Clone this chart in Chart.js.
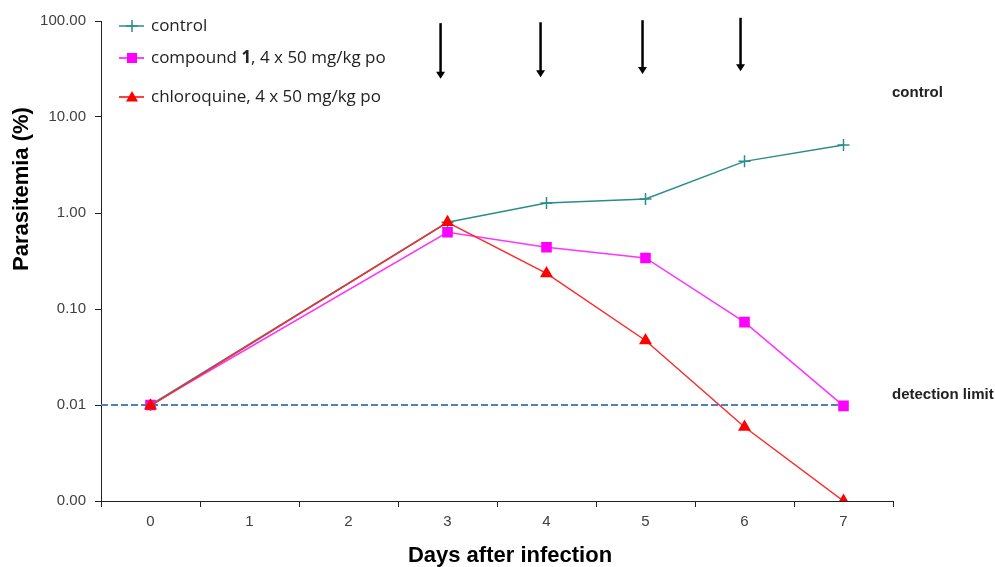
<!DOCTYPE html>
<html>
<head>
<meta charset="utf-8">
<script src="https://cdn.jsdelivr.net/npm/chart.js@4.4.1/dist/chart.umd.min.js"></script>
<style>
  html, body { margin: 0; padding: 0; background: #fff; }
  #wrap { width: 995px; height: 567px; }
</style>
</head>
<body>
<div id="wrap"><canvas id="chart"></canvas></div>
<script>
// Data
const days = ['0', '1', '2', '3', '4', '5', '6', '7'];
const control = [0.01, null, null, 0.80, 1.27, 1.40, 3.45, 5.1];
const compound1 = [0.01, null, null, 0.63, 0.44, 0.34, 0.073, 0.0098];
const chloroquine = [0.0098, null, null, 0.80, 0.235, 0.047, 0.0059, 0.001];
const yTicks = [0.001, 0.01, 0.1, 1, 10, 100];
const detectionLimit = 0.01;

// Dosing arrows (x in days, y in %)
const arrowDays = [2.93, 3.94, 4.97, 5.96];
const arrowTops = [95, 97, 102, 108];
const arrowBottoms = [25, 26, 28, 30];

const TEAL = '#2b8c8c';
const MAGENTA = '#ff00ff';
const RED = '#ff0000';
const AXIS = '#222';
const FONT = '"Liberation Sans", Arial, sans-serif';

function marker(ctx, style, x, y, color) {
    ctx.save();
    ctx.fillStyle = color;
    ctx.strokeStyle = color;
    ctx.lineWidth = 1.5;
    ctx.beginPath();
    if (style === 'cross') {
        ctx.moveTo(x - 6, y); ctx.lineTo(x + 6, y);
        ctx.moveTo(x, y - 6); ctx.lineTo(x, y + 6);
        ctx.stroke();
    } else if (style === 'rect') {
        ctx.fillRect(x - 5, y - 5, 10, 10);
    } else {
        ctx.moveTo(x, y - 6); ctx.lineTo(x + 6, y + 4.5); ctx.lineTo(x - 6, y + 4.5);
        ctx.closePath();
        ctx.fill();
    }
    ctx.restore();
}

// Detection limit line, drawn under the series
const detectionPlugin = {
    id: 'detection',
    beforeDatasetsDraw(chart) {
        const { ctx, chartArea, scales } = chart;
        const y = scales.y.getPixelForValue(detectionLimit);
        ctx.save();
        ctx.strokeStyle = '#4f81bd';
        ctx.lineWidth = 2;
        ctx.setLineDash([7, 3]);
        ctx.beginPath();
        ctx.moveTo(chartArea.left, y);
        ctx.lineTo(scales.x.getPixelForValue(days.length - 1), y);
        ctx.stroke();
        ctx.restore();
    }
};

// Arrows, legend, axis titles and side notes
const overlayPlugin = {
    id: 'overlay',
    afterDraw(chart) {
        const { ctx, chartArea, scales } = chart;
        ctx.save();

        // arrows
        ctx.strokeStyle = '#000';
        ctx.fillStyle = '#000';
        ctx.lineWidth = 2.5;
        arrowDays.forEach((d, i) => {
            const x = scales.x.getPixelForValue(d);
            const y0 = scales.y.getPixelForValue(arrowTops[i]);
            const y1 = scales.y.getPixelForValue(arrowBottoms[i]);
            ctx.beginPath();
            ctx.moveTo(x, y0);
            ctx.lineTo(x, y1 - 6);
            ctx.stroke();
            ctx.beginPath();
            ctx.moveTo(x - 4.5, y1 - 7);
            ctx.lineTo(x + 4.5, y1 - 7);
            ctx.lineTo(x, y1);
            ctx.closePath();
            ctx.fill();
        });

        // legend
        const lx = chartArea.left + 18;
        const rows = [
            { y: 26, color: TEAL, style: 'cross', parts: [['control', false]] },
            { y: 58, color: MAGENTA, style: 'rect', parts: [['compound ', false], ['1', true], [', 4 x 50 mg/kg po', false]] },
            { y: 97, color: RED, style: 'triangle', parts: [['chloroquine, 4 x 50 mg/kg po', false]] }
        ];
        rows.forEach(r => {
            ctx.strokeStyle = r.color;
            ctx.lineWidth = 1.5;
            ctx.beginPath();
            ctx.moveTo(lx, r.y);
            ctx.lineTo(lx + 25, r.y);
            ctx.stroke();
            marker(ctx, r.style, lx + 13, r.y, r.color);
            let tx = lx + 32;
            ctx.fillStyle = '#222';
            ctx.textBaseline = 'middle';
            ctx.textAlign = 'left';
            r.parts.forEach(([t, bold]) => {
                ctx.font = (bold ? 'bold ' : '') + '17px "Open Sans", sans-serif';
                ctx.fillText(t, tx, r.y);
                tx += ctx.measureText(t).width;
            });
        });

        // axis titles
        ctx.fillStyle = '#000';
        ctx.font = 'bold 22px ' + FONT;
        ctx.textAlign = 'center';
        ctx.textBaseline = 'middle';
        ctx.fillText('Days after infection', 510, 556);
        ctx.save();
        ctx.translate(22, 189);
        ctx.rotate(-Math.PI / 2);
        ctx.fillText('Parasitemia (%)', 0, 0);
        ctx.restore();

        // side notes
        ctx.font = 'bold 15px ' + FONT;
        ctx.fillStyle = '#222';
        ctx.textAlign = 'left';
        ctx.fillText('control', chartArea.right - 1, scales.y.getPixelForValue(18));
        ctx.fillText('detection limit', chartArea.right - 1, scales.y.getPixelForValue(detectionLimit) - 10);
        ctx.restore();
    }
};

new Chart(document.getElementById('chart'), {
    type: 'line',
    data: {
        labels: days,
        datasets: [
            {
                label: 'control',
                data: control,
                borderColor: TEAL,
                backgroundColor: TEAL,
                borderWidth: 1.5,
                pointStyle: 'cross',
                pointRadius: 6,
                pointBorderWidth: 1.5,
                spanGaps: true,
                order: 1
            },
            {
                label: 'compound 1, 4 x 50 mg/kg po',
                data: compound1,
                borderColor: '#ff33ff',
                backgroundColor: MAGENTA,
                pointBorderColor: MAGENTA,
                borderWidth: 1.5,
                pointStyle: 'rect',
                pointRadius: 7.5,
                pointBorderWidth: 0,
                spanGaps: true,
                order: 2
            },
            {
                label: 'chloroquine, 4 x 50 mg/kg po',
                data: chloroquine,
                borderColor: '#ff2a2a',
                backgroundColor: RED,
                pointBorderColor: RED,
                borderWidth: 1.5,
                pointStyle: 'triangle',
                pointRadius: 7.5,
                pointBorderWidth: 0,
                spanGaps: true,
                order: 0
            }
        ]
    },
    options: {
        responsive: true,
        maintainAspectRatio: false,
        animation: false,
        layout: { padding: { left: 0, top: 21, right: 102, bottom: 0 } },
        plugins: {
            legend: { display: false },
            tooltip: { enabled: false }
        },
        scales: {
            x: {
                type: 'category',
                offset: true,
                afterFit: s => { s.height = 66; },
                grid: {
                    offset: true,
                    drawOnChartArea: false,
                    color: AXIS,
                    tickLength: 6,
                    tickColor: AXIS
                },
                border: { color: AXIS, width: 1 },
                ticks: { color: '#404040', padding: 6, font: { size: 15, family: FONT } }
            },
            y: {
                type: 'logarithmic',
                min: 0.001,
                max: 100,
                afterFit: s => { s.width = 101; },
                afterBuildTicks: s => { s.ticks = yTicks.map(v => ({ value: v })); },
                grid: {
                    drawOnChartArea: false,
                    color: AXIS,
                    tickLength: 6,
                    tickColor: AXIS
                },
                border: { color: AXIS, width: 1 },
                ticks: {
                    color: '#404040',
                    padding: 9,
                    font: { size: 15, family: FONT },
                    callback: v => Number(v).toFixed(2)
                }
            }
        }
    },
    plugins: [detectionPlugin, overlayPlugin]
});
</script>
</body>
</html>
